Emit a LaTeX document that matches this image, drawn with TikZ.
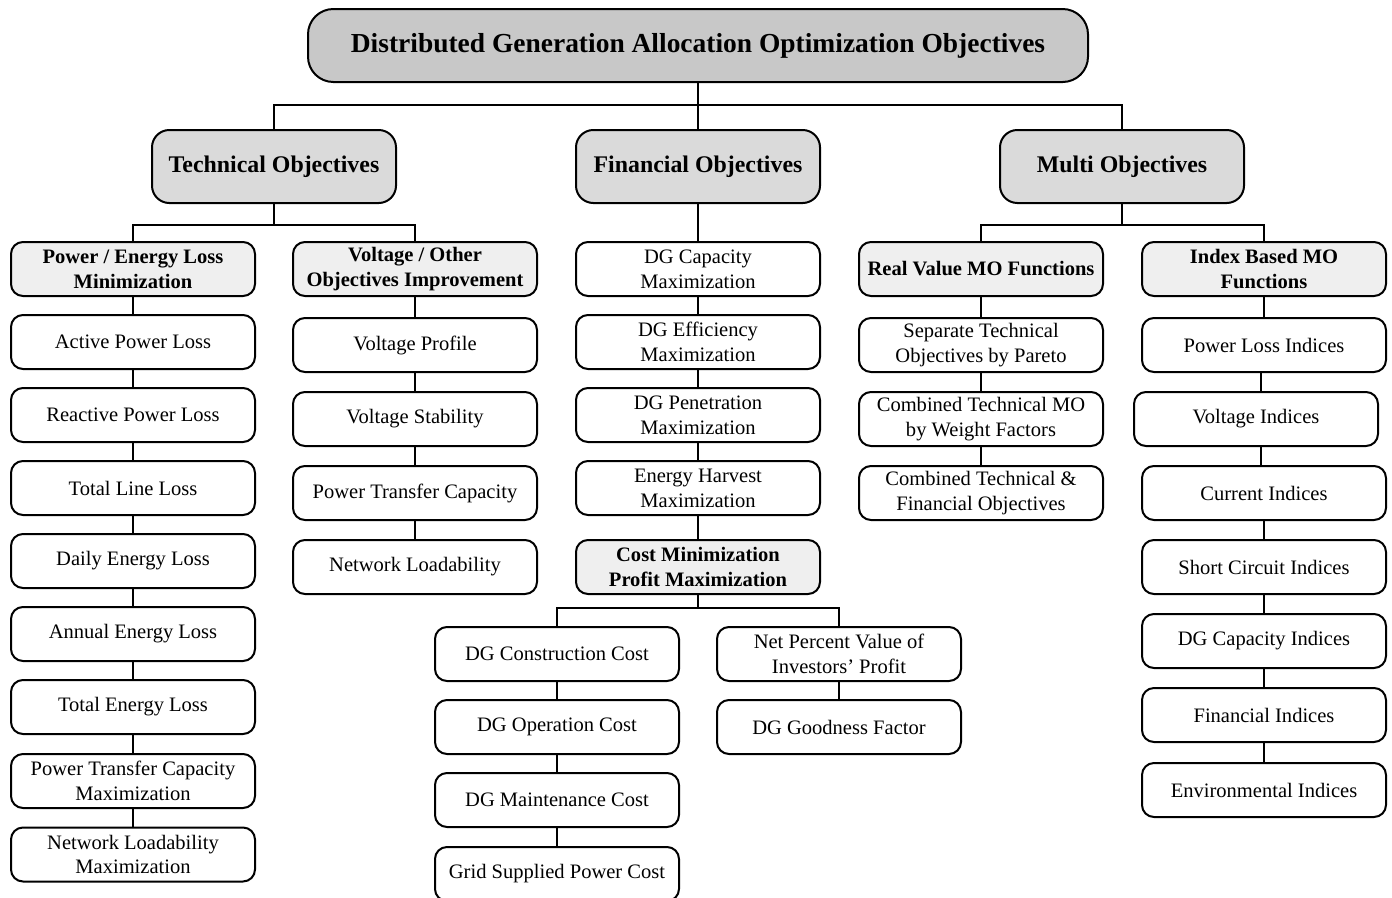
\documentclass[tikz,border=0pt]{standalone}
\usepackage{fontspec}
\setmainfont{Liberation Serif}
\begin{document}
\begin{tikzpicture}[x=0.75pt,y=-0.75pt,
  box/.style={draw=black,line width=1.5pt,rounded corners=9pt,fill=white,
    minimum width=183pt,minimum height=40.5pt,inner sep=0pt,align=center,
    font=\fontsize{15.4}{18.6}\selectfont},
  subhead/.style={box,fill=headthree,font=\fontsize{15.4}{18.6}\selectfont\bfseries},
  head/.style={box,fill=headtwo,rounded corners=13pt,minimum height=54.75pt,
    font=\fontsize{17.9}{21}\selectfont\bfseries},
  rootbox/.style={box,fill=headone,rounded corners=19pt,minimum width=585pt,
    minimum height=54.75pt,font=\fontsize{20.6}{24}\selectfont\bfseries},
  link/.style={draw=black,line width=1.5pt}]
\definecolor{headone}{HTML}{C8C8C8}
\definecolor{headtwo}{HTML}{DADADA}
\definecolor{headthree}{HTML}{EFEFEF}
\useasboundingbox (0,0) rectangle (1392,897);
\begin{scope}
\clip (0,0) rectangle (1392,897);

% top level
\node[rootbox] (root) at (698,45.5) {Distributed Generation Allocation Optimization Objectives};

% main branches
\node[head] (tech)  at (274,166.5)  {Technical Objectives};
\node[head] (fin)   at (698,166.5)  {Financial Objectives};
\node[head] (multi) at (1122,166.5) {Multi Objectives};

% technical sub-branches
\node[subhead] (pel) at (133,269) {Power / Energy Loss\\Minimization};
\node[subhead] (vo)  at (415,269) {Voltage / Other\\Objectives Improvement};

\node[box] (t1) at (133,342)   {Active Power Loss};
\node[box] (t2) at (133,415)   {Reactive Power Loss};
\node[box] (t3) at (133,488)   {Total Line Loss};
\node[box] (t4) at (133,561)   {Daily Energy Loss};
\node[box] (t5) at (133,634)   {Annual Energy Loss};
\node[box] (t6) at (133,707)   {Total Energy Loss};
\node[box] (t7) at (133,781)   {Power Transfer Capacity\\Maximization};
\node[box] (t8) at (133,854.5) {Network Loadability\\Maximization};

\node[box] (v1) at (415,345) {Voltage Profile};
\node[box] (v2) at (415,419) {Voltage Stability};
\node[box] (v3) at (415,493) {Power Transfer Capacity};
\node[box] (v4) at (415,567) {Network Loadability};

% financial branch
\node[box] (f1) at (698,269) {DG Capacity\\Maximization};
\node[box] (f2) at (698,342) {DG Efficiency\\Maximization};
\node[box] (f3) at (698,415) {DG Penetration\\Maximization};
\node[box] (f4) at (698,488) {Energy Harvest\\Maximization};
\node[subhead] (cost) at (698,567) {Cost Minimization\\Profit Maximization};

\node[box] (c1) at (557,654) {DG Construction Cost};
\node[box] (c2) at (557,727) {DG Operation Cost};
\node[box] (c3) at (557,800) {DG Maintenance Cost};
\node[box] (c4) at (557,874) {Grid Supplied Power Cost};
\node[box] (p1) at (839,654) {Net Percent Value of\\Investors’ Profit};
\node[box] (p2) at (839,727) {DG Goodness Factor};

% multi-objective branch
\node[subhead] (rv) at (981,269)  {Real Value MO Functions};
\node[subhead] (ib) at (1264,269) {Index Based MO\\Functions};

\node[box] (r1) at (981,345) {Separate Technical\\Objectives by Pareto};
\node[box] (r2) at (981,419) {Combined Technical MO\\by Weight Factors};
\node[box] (r3) at (981,493) {Combined Technical \&\\Financial Objectives};

\node[box] (i1) at (1264,345) {Power Loss Indices};
\node[box] (i2) at (1256,419) {Voltage Indices};
\node[box] (i3) at (1264,493) {Current Indices};
\node[box] (i4) at (1264,567) {Short Circuit Indices};
\node[box] (i5) at (1264,641) {DG Capacity Indices};
\node[box] (i6) at (1264,715) {Financial Indices};
\node[box] (i7) at (1264,790) {Environmental Indices};

% junction points of the tree buses
\coordinate (j0) at (698,105);
\coordinate (jt) at (274,225);
\coordinate (jm) at (1122,225);
\coordinate (jc) at (698,608);

% connectors
\draw[link] (root.south) -- (j0) -| (tech.north);
\draw[link] (j0) -| (multi.north);
\draw[link] (j0) -- (fin.north);

\draw[link] (tech.south) -- (jt) -| (pel.north);
\draw[link] (jt) -| (vo.north);
\draw[link] (multi.south) -- (jm) -| (rv.north);
\draw[link] (jm) -| (ib.north);
\draw[link] (fin.south) -- (f1.north);

\draw[link] (pel.south) -- (t1.north);
\foreach \a/\b in {t1/t2,t2/t3,t3/t4,t4/t5,t5/t6,t6/t7,t7/t8,
                   vo/v1,v1/v2,v2/v3,v3/v4,
                   f1/f2,f2/f3,f3/f4,f4/cost,
                   c1/c2,c2/c3,c3/c4,p1/p2,
                   rv/r1,r1/r2,r2/r3,
                   ib/i1,i3/i4,i4/i5,i5/i6,i6/i7}
  \draw[link] (\a.south) -- (\b.north);
% the offset voltage box hangs on a slightly shifted line
\coordinate (iv) at ([xshift=-2.25pt]i1.south);
\draw[link] (iv) -- (iv |- i2.north);
\draw[link] (iv |- i2.south) -- (iv |- i3.north);

\draw[link] (cost.south) -- (jc) -| (c1.north);
\draw[link] (jc) -| (p1.north);
\end{scope}
\end{tikzpicture}
\end{document}
